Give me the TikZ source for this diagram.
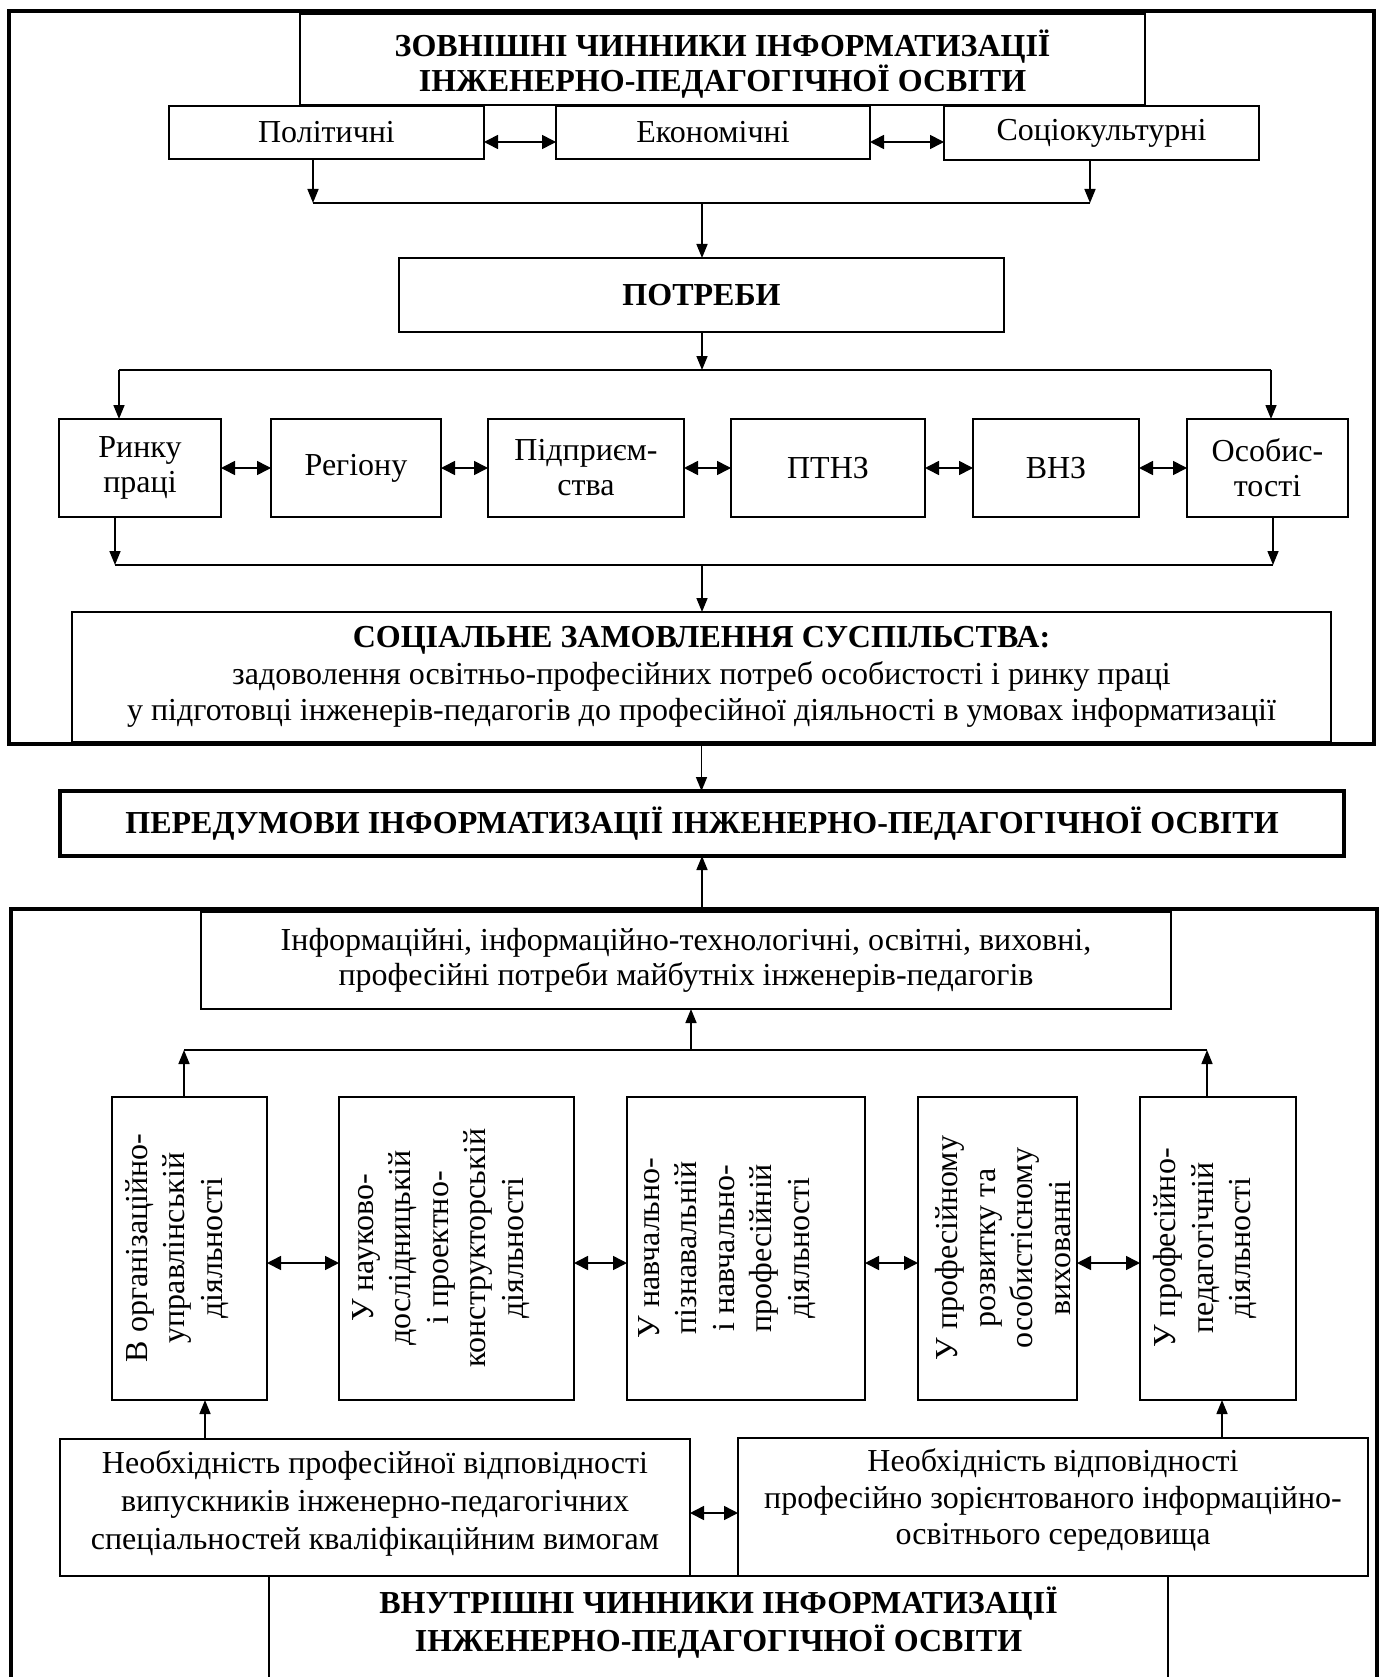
\documentclass[tikz,border=0pt]{standalone}
\usepackage{fontspec}
\setmainfont{Liberation Serif}
\usetikzlibrary{arrows.meta,calc}
\begin{document}
\begin{tikzpicture}[x=1pt,y=-1pt,
  every node/.style={inner sep=0pt, outer sep=0pt},
  hbox/.style={draw, line width=2pt, align=center, font=\fontsize{32}{35}\selectfont},
  bbox/.style={draw, line width=2pt, align=center, font=\fontsize{32}{35}\selectfont\bfseries},
  vbx/.style={draw, line width=2pt},
  vtxt/.style={rotate=90, align=center, font=\fontsize{32}{37.5}\selectfont},
  frame/.style={line width=3.5pt},
  bus/.style={line width=2.5pt},
  arr/.style={-{Triangle[length=14pt,width=11pt]}, line width=1.6pt},
  dbl/.style={{Triangle[length=14pt,width=14pt]}-{Triangle[length=14pt,width=14pt]}, line width=1.6pt}]
\useasboundingbox (0,0) rectangle (1380,1677);
\fill[white] (0,0) rectangle (1380,1677);

% upper frame
\draw[frame] (9,11) rectangle (1374,744);

\node[bbox, minimum width=845pt, minimum height=91pt] (T) at (722.5,59.5)
  {\rule{0pt}{36pt}ЗОВНІШНІ ЧИННИКИ ІНФОРМАТИЗАЦІЇ\\ІНЖЕНЕРНО-ПЕДАГОГІЧНОЇ ОСВІТИ};

\node[hbox, minimum width=315pt, minimum height=53pt] (P) at (326.5,132.5) {Політичні};
\node[hbox, minimum width=314pt, minimum height=53pt] (E) at (713,132.5) {Економічні};
\node[hbox, minimum width=315pt, minimum height=54pt] (S) at (1101.5,133) {Соціокультурні};
\draw[dbl] ([yshift=-9.5pt]P.east) -- ([yshift=-9.5pt]E.west);
\draw[dbl] ([yshift=-9.5pt]E.east) -- ([yshift=-9pt]S.west);

\coordinate (b1l) at (313,203);
\coordinate (b1r) at (1090,203);
\coordinate (b1m) at (702,203);
\draw[arr] (P.south -| b1l) -- (b1l);
\draw[arr] (S.south -| b1r) -- (b1r);
\draw[bus] (b1l) -- (b1r);

\node[bbox, minimum width=605pt, minimum height=74pt] (N) at (701.5,295) {ПОТРЕБИ};
\draw[arr] (b1m) -- (N.north -| b1m);

\coordinate (b2l) at (119,370);
\coordinate (b2r) at (1271,370);
\coordinate (b2m) at (702,370);
\draw[arr] (N.south -| b2m) -- (b2m);
\draw[bus] (b2l) -- (b2r);

\node[hbox, minimum width=162pt, minimum height=98pt] (R1) at (140,468) {Ринку\\праці};
\node[hbox, minimum width=170pt, minimum height=98pt] (R2) at (356,468) {Регіону};
\node[hbox, minimum width=196pt, minimum height=98pt] (R3) at (586,468) {Підприєм-\\ства};
\node[hbox, minimum width=194pt, minimum height=98pt] (R4) at (828,468) {ПТНЗ};
\node[hbox, minimum width=166pt, minimum height=98pt] (R5) at (1056,468) {ВНЗ};
\node[hbox, minimum width=161pt, minimum height=98pt] (R6) at (1267.5,468) {Особис-\\тості};
\draw[arr] (b2l) -- (R1.north -| b2l);
\draw[arr] (b2r) -- (R6.north -| b2r);
\draw[dbl] (R1.east) -- (R2.west);
\draw[dbl] (R2.east) -- (R3.west);
\draw[dbl] (R3.east) -- (R4.west);
\draw[dbl] (R4.east) -- (R5.west);
\draw[dbl] (R5.east) -- (R6.west);

\coordinate (b3l) at (115,565);
\coordinate (b3r) at (1273,565);
\coordinate (b3m) at (702,565);
\draw[arr] (R1.south -| b3l) -- (b3l);
\draw[arr] (R6.south -| b3r) -- (b3r);
\draw[bus] (b3l) -- (b3r);

\node[hbox, minimum width=1259pt, minimum height=130pt, font=\fontsize{32}{36.5}\selectfont] (SOC) at (701.5,677)
  {\textbf{СОЦІАЛЬНЕ ЗАМОВЛЕННЯ СУСПІЛЬСТВА:}\\
   задоволення освітньо-професійних потреб особистості і ринку праці\\
   у підготовці інженерів-педагогів до професійної діяльності в умовах інформатизації};
\draw[arr] (b3m) -- (SOC.north -| b3m);

\node[bbox, line width=3.5pt, minimum width=1284pt, minimum height=65pt] (PRE) at (702,823.5)
  {ПЕРЕДУМОВИ ІНФОРМАТИЗАЦІЇ ІНЖЕНЕРНО-ПЕДАГОГІЧНОЇ ОСВІТИ};
\draw[arr] (SOC.south) -- (SOC.south |- PRE.north);

% lower frame
\draw[frame] (11,1720) -- (11,909) -- (1377,909) -- (1377,1720);

\node[hbox, minimum width=970pt, minimum height=97pt] (INFO) at (686,960.5)
  {Інформаційні, інформаційно-технологічні, освітні, виховні,\\
   професійні потреби майбутніх інженерів-педагогів};
\draw[arr] (INFO.north -| PRE.south) -- (PRE.south);

\coordinate (b4l) at (184,1050);
\coordinate (b4r) at (1207,1050);
\coordinate (b4m) at (691,1050);
\draw[arr] (b4m) -- (INFO.south -| b4m);
\draw[bus] (b4l) -- (b4r);

\node[vbx, minimum width=155pt, minimum height=303pt] (V1) at (189.5,1248.5) {};
\node[vbx, minimum width=235pt, minimum height=303pt] (V2) at (456.5,1248.5) {};
\node[vbx, minimum width=238pt, minimum height=303pt] (V3) at (746,1248.5) {};
\node[vbx, minimum width=159pt, minimum height=303pt] (V4) at (997.5,1248.5) {};
\node[vbx, minimum width=156pt, minimum height=303pt] (V5) at (1218,1248.5) {};
\node[vtxt] (V1t) at (177,1248) {В організаційно-\\управлінській\\діяльності};
\node[vtxt] (V2t) at (441,1248) {У науково-\\дослідницькій\\і проектно-\\конструкторській\\діяльності};
\node[vtxt] (V3t) at (727,1248) {У навчально-\\пізнавальній\\і навчально-\\професійній\\діяльності};
\node[vtxt] (V4t) at (1003,1248) {У професійному\\розвитку та\\особистісному\\вихованні};
\node[vtxt] (V5t) at (1205,1248) {У професійно-\\педагогічній\\діяльності};
\draw[arr] (V1.north -| b4l) -- (b4l);
\draw[arr] (V5.north -| b4r) -- (b4r);
\draw[dbl] ([yshift=-14.5pt]V1.east) -- ([yshift=-14.5pt]V2.west);
\draw[dbl] ([yshift=-14.5pt]V2.east) -- ([yshift=-14.5pt]V3.west);
\draw[dbl] ([yshift=-14.5pt]V3.east) -- ([yshift=-14.5pt]V4.west);
\draw[dbl] ([yshift=-14.5pt]V4.east) -- ([yshift=-14.5pt]V5.west);

\node[hbox, minimum width=630pt, minimum height=137pt, font=\fontsize{32}{38}\selectfont] (N1) at (375,1507.5)
  {Необхідність професійної відповідності\\
   випускників інженерно-педагогічних\\
   спеціальностей кваліфікаційним вимогам\rule[-14pt]{0pt}{14pt}};
\node[hbox, minimum width=630pt, minimum height=138pt, font=\fontsize{32}{36.5}\selectfont] (N2) at (1053,1507)
  {Необхідність відповідності\\
   професійно зорієнтованого інформаційно-\\
   освітнього середовища\rule[-20pt]{0pt}{20pt}};
\draw[arr] (N1.north -| 205,0) -- (V1.south -| 205,0);
\draw[arr] (N2.north -| 1222,0) -- (V5.south -| 1222,0);
\draw[dbl] ([yshift=-5.5pt]N1.east) -- ([yshift=-6pt]N2.west);

\node[align=center, font=\fontsize{32}{38}\selectfont\bfseries, minimum width=899pt, minimum height=94pt] (VN) at (718.5,1623)
  {ВНУТРІШНІ ЧИННИКИ ІНФОРМАТИЗАЦІЇ\\ІНЖЕНЕРНО-ПЕДАГОГІЧНОЇ ОСВІТИ};
\draw[line width=2pt] ([yshift=-80pt]VN.south west) -- (VN.north west) -- (VN.north east) -- ([yshift=-80pt]VN.south east);
\end{tikzpicture}
\end{document}
